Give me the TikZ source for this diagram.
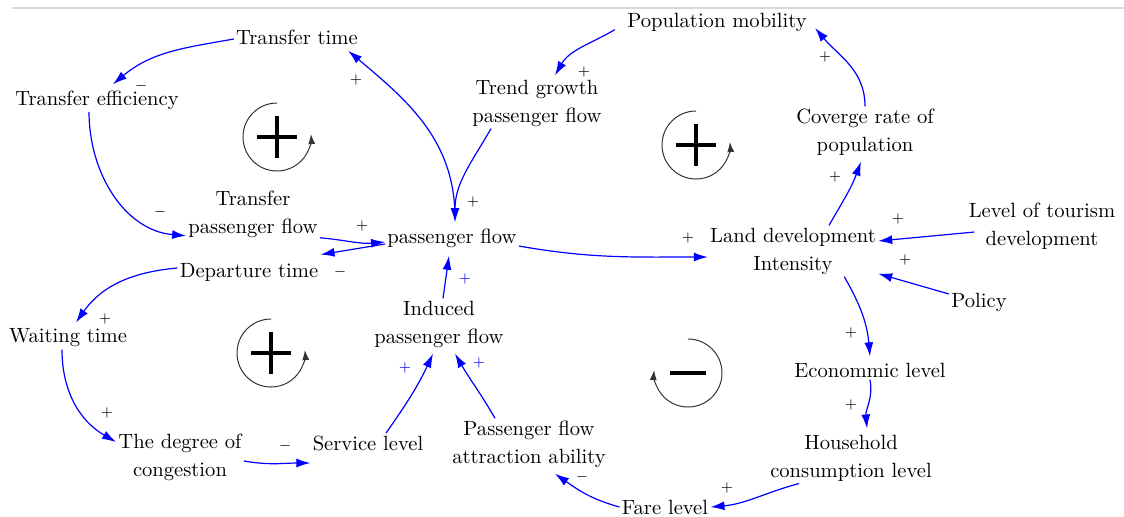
\documentclass[tikz,border=0pt]{standalone}
\usepackage{tikz}
\usetikzlibrary{arrows.meta,calc}
\tikzset{
  var/.style={align=center, inner sep=1pt, font=\fontsize{10.3}{14}\selectfont},
  link/.style={draw=blue, line width=0.6pt, -{Latex[length=7pt,width=4.5pt]}},
  sign/.style={inner sep=0pt, font=\scriptsize},
  loopc/.style={draw=black!80, line width=0.5pt, -{Latex[length=5pt,width=3.5pt]}},
  loopbar/.style={line width=2.4pt}
}
\def\posloop(#1){%
  \draw[loopc] ($(#1)+(0,34)$) arc (90:365:34);
  \draw[loopbar] ($(#1)+(-20,0)$) -- ($(#1)+(20,0)$);
  \draw[loopbar] ($(#1)+(0,-21)$) -- ($(#1)+(0,21)$);}
\def\negloop(#1){%
  \draw[loopc] ($(#1)+(0,34)$) arc (90:-185:34);
  \draw[loopbar] ($(#1)+(-18,0)$) -- ($(#1)+(18,0)$);}

\begin{document}
\begin{tikzpicture}[x=0.5pt, y=0.5pt]
		%%%%% START %%%%%
		\useasboundingbox (0,0) rectangle (1124,-516);
		\draw[gray!30, line width=0.6pt] (12,-8) -- (1124,-8);
		
		% variables
		\node[var] (tt) at (297,-37) {Transfer time};
		\node[var] (te) at (97,-100) {Transfer efficiency};
		\node[var] (tpf) at (253,-214) {Transfer\\passenger flow};
		\node[var] (pf) at (452,-238) {passenger flow};
		\node[var] (dt) at (249,-272) {Departure time};
		\node[var] (wt) at (68,-338) {Waiting time};
		\node[var] (doc) at (180,-457) {The degree of\\congestion};
		\node[var] (sl) at (368,-443) {Service level};
		\node[var] (ipf) at (439,-324) {Induced\\passenger flow};
		\node[var] (pfaa) at (529,-444) {Passenger flow\\attraction ability};
		\node[var] (tgpf) at (537,-103) {Trend growth\\passenger flow};
		\node[var] (pm) at (717,-22) {Population mobility};
		\node[var] (crp) at (865,-132) {Coverge rate of\\population};
		\node[var] (ldi) at (793,-251) {Land development\\Intensity};
		\node[var] (ltd) at (1042,-226) {Level of tourism\\development};
		\node[var] (pol) at (979,-302) {Policy};
		\node[var] (econ) at (870,-370) {Econommic level};
		\node[var] (hcl) at (851,-458) {Household\\consumption level};
		\node[var] (fare) at (665,-507) {Fare level};
		
		% links
		\draw[link] ([yshift=-1pt]tt.west) to[out=190,in=40] ([xshift=8pt,yshift=2pt]te.north);
		\draw[link] ([xshift=-4pt]te.south) to[out=-90,in=175] ([yshift=2pt]tpf.south west);
		\draw[link] ([yshift=1pt]tpf.south east) to[out=-5,in=185] ([yshift=-2pt]pf.west);
		\draw[link] ([yshift=-3pt]pf.west) -- ([yshift=3pt]dt.north east);
		\draw[link] ([yshift=2pt]dt.west) to[out=185,in=55] ([xshift=4pt,yshift=2pt]wt.north);
		\draw[link] ([xshift=-3pt]wt.south) to[out=-90,in=150] ([yshift=7.5pt]doc.west);
		\draw[link] ([yshift=-2pt]doc.east) to[out=-10,in=180] ([yshift=-10pt]sl.west);
		\draw[link] ([xshift=9pt]sl.north) to[out=55,in=-115] ([xshift=-3pt,yshift=-2pt]ipf.south);
		\draw[link] ([xshift=-17pt]pfaa.north) to[out=120,in=-60] ([xshift=8pt,yshift=-2pt]ipf.south);
		\draw[link] ([xshift=2pt]ipf.north) -- ([xshift=-1.5pt,yshift=-3pt]pf.south);
		\draw[link] ([xshift=1.5pt,yshift=4pt]pf.north) to[out=90,in=-40] ([xshift=-6pt,yshift=-2pt]tt.south east);
		\draw[link] ([xshift=-23pt]tgpf.south) to[out=-120,in=90] ([xshift=1.5pt,yshift=2pt]pf.north);
		\draw[link] ([xshift=-5pt,yshift=2pt]pm.south west) to[out=210,in=60] ([xshift=9pt,yshift=1pt]tgpf.north);
		\draw[link] (crp.north) to[out=90,in=-50] ([shift={(3pt,-3pt)}]pm.east);
		\draw[link] ([xshift=18pt]ldi.north) to[out=60,in=-110] ([xshift=-2pt,yshift=-2pt]crp.south);
		\draw[link] ([yshift=-4pt]pf.east) to[out=-10,in=180] ([yshift=-3pt]ldi.west);
		\draw[link] ([shift={(4pt,-3pt)}]ltd.west) -- ([yshift=5pt]ldi.east);
		\draw[link] ([yshift=4pt]pol.west) -- ([yshift=1.5pt]ldi.south east);
		\draw[link] ([xshift=-17pt]ldi.south east) to[out=-60,in=95] ([yshift=2pt]econ.north);
		\draw[link] (econ.south) to[out=-80,in=95] ([xshift=8pt,yshift=2pt]hcl.north);
		\draw[link] ([xshift=-26pt]hcl.south) to[out=195,in=5] (fare.east);
		\draw[link] (fare.west) to[out=165,in=-35] ([xshift=13pt,yshift=-2pt]pfaa.south);
		
		% polarities
		\foreach \px/\py [count=\i] in {356/80, 362/226, 105/319, 107/413, 473/202, 584/72, 825/57, 835/177, 688/238, 898/219, 905/260, 851/333, 851/405, 727/488}
			\node[sign] (p\i) at (\px,-\py) {$+$};
		\foreach \px/\py [count=\i] in {405/368, 479/363, 465/279}
			\node[sign, text=blue] (b\i) at (\px,-\py) {$+$};
		\foreach \px/\py [count=\i] in {141/86, 160/212, 340/272, 285/446, 582/477}
			\node[sign] (m\i) at (\px,-\py) {$-$};
		
		% loops
		\posloop(277,-137)
		\posloop(696,-145)
		\posloop(271,-353)
		\negloop(688,-373)
		%%%%% END %%%%%
\end{tikzpicture}
\end{document}
